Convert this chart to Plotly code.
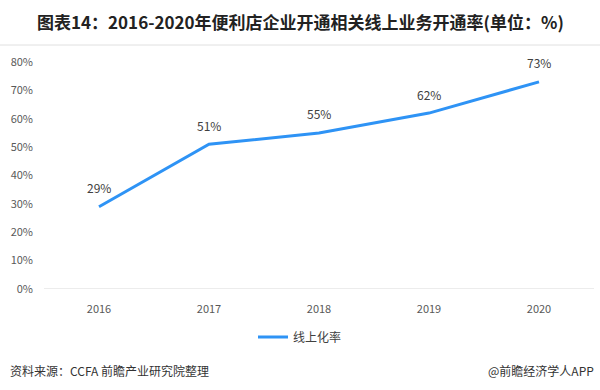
import plotly.graph_objects as go

years = ["2016", "2017", "2018", "2019", "2020"]
online_rate = [29, 51, 55, 62, 73]
rate_labels = ["29%", "51%", "55%", "62%", "73%"]
y_ticks = [0, 10, 20, 30, 40, 50, 60, 70, 80]
y_tick_labels = ["0%", "10%", "20%", "30%", "40%", "50%", "60%", "70%", "80%"]

FONT = "Noto Sans CJK SC"

fig = go.Figure()
fig.add_trace(go.Scatter(
    x=years, y=online_rate, mode="lines", name="线上化率",
    line=dict(color="#2E93F5", width=3),
))

label_anns = [
    dict(x=i, y=v, text=t, xref="x", yref="y", showarrow=False, yshift=19,
         xanchor="center", yanchor="middle",
         font=dict(size=12, color="#404040", family=FONT))
    for i, (v, t) in enumerate(zip(online_rate, rate_labels))
]

fig.update_layout(
    width=600, height=390,
    margin=dict(l=44, r=6, t=62, b=101, autoexpand=False),
    paper_bgcolor="white", plot_bgcolor="white",
    font=dict(family=FONT, color="#595959", size=11),
    showlegend=True,
    legend=dict(orientation="h", x=(300-44)/550, xanchor="center", y=(390-337)/390,
                yref="container", yanchor="middle", font=dict(size=12, color="#404040")),
    xaxis=dict(type="category", range=[-0.5, 4.5], showgrid=False, zeroline=False,
               showline=False, ticks="", automargin=False, ticklabelstandoff=12,
               tickfont=dict(size=11, color="#595959")),
    yaxis=dict(range=[0, 80], tickvals=y_ticks, ticktext=y_tick_labels, automargin=False,
               showgrid=False, zeroline=False, showline=False, ticks="", ticklabelstandoff=10,
               tickfont=dict(size=11, color="#595959")),
    shapes=[
        dict(type="line", xref="paper", yref="y", x0=0, x1=1, y0=0, y1=0,
             line=dict(color="#D9D9D9", width=1)),
        dict(type="line", xref="paper", yref="paper", x0=-44/550, x1=556/550,
             y0=(289-45)/227, y1=(289-45)/227, line=dict(color="#E0E0E0", width=1)),
    ],
    annotations=label_anns + [
        dict(text="<b>图表14：2016-2020年便利店企业开通相关线上业务开通率(单位：%)</b>",
             xref="paper", yref="paper", x=(300-44)/550, y=(289-22)/227,
             xanchor="center", yanchor="middle", showarrow=False,
             font=dict(size=17, color="#222222", family=FONT)),
        dict(text="资料来源：CCFA 前瞻产业研究院整理",
             xref="paper", yref="paper", x=-36/550, y=(289-370)/227,
             xanchor="left", yanchor="middle", showarrow=False,
             font=dict(size=12, color="#333333", family=FONT)),
        dict(text="@前瞻经济学人APP",
             xref="paper", yref="paper", x=1 + 2/550, y=(289-370)/227,
             xanchor="right", yanchor="middle", showarrow=False,
             font=dict(size=12, color="#333333", family=FONT)),
    ],
)

fig.write_html("out.html", config={"displayModeBar": False},
               post_script="document.body.style.margin='0';")
